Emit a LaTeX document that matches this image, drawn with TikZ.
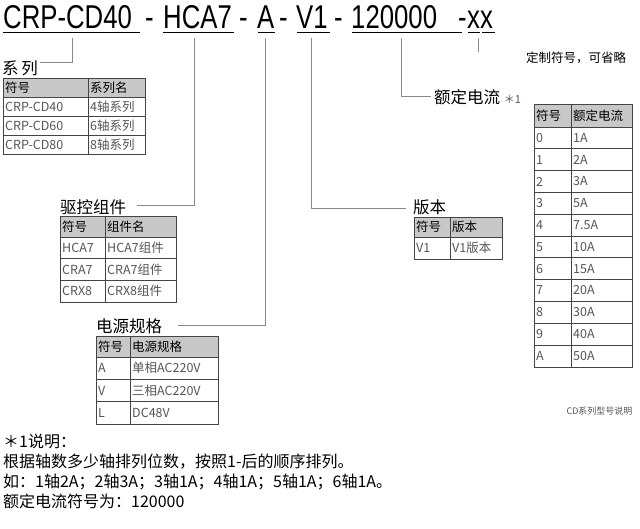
\documentclass[tikz,border=0pt]{standalone}
\usepackage{fontspec}
\setmainfont{Noto Sans CJK SC}
\newfontfamily\hdr{Liberation Sans}
\definecolor{hd}{HTML}{C8C8C8}
\definecolor{bd}{HTML}{444444}
\definecolor{tx}{HTML}{555555}
\definecolor{ln}{HTML}{888888}
\begin{document}
\begin{tikzpicture}[x=1pt,y=-1pt,
  big/.style={font=\hdr\fontsize{33}{33}\selectfont,anchor=base west,inner sep=0pt},
  lead/.style={ln,line width=0.6pt},
  lab/.style={font=\fontsize{16.5}{16.5}\selectfont,anchor=south west,inner sep=0pt},
  cell/.style={anchor=west,inner sep=2pt,font=\fontsize{12.5}{13}\selectfont},
  hcell/.style={cell,text=black},
  rcell/.style={cell,text=tx},
  grid/.style={bd,line width=0.6pt}]
\useasboundingbox (0,0) rectangle (640,529);
% header
\newcommand\sq[1]{\scalebox{0.78}[1]{#1}}
\node[big] (p1) at (3,29) {\sq{CRP-CD40}};
\node[big] (d1) at (145,29) {\sq{-}};
\node[big] (p2) at (163,29) {\sq{HCA7}};
\node[big] (d2) at (239,29) {\sq{-}};
\node[big] (p3) at (257,29) {\sq{A}};
\node[big] (d3) at (279,29) {\sq{-}};
\node[big] (p4) at (296,29) {\sq{V1}};
\node[big] (d4) at (334,29) {\sq{-}};
\node[big] (p5) at (351,29) {\sq{120000}};
\node[big] (d5) at (458,29) {\sq{-}};
\node[big] (p6) at (467,29) {\sq{xx}};
\foreach \a/\b in {3/140,163/234,258/275,297/330,352/462,468/480,482/495}
  \draw[black,line width=0.8pt] (\a,32) -- (\b,32);
% labels
\node[lab] (l1) at (2,76) {系\,列};
\node[lab] (l2) at (60,215) {驱控组件};
\node[lab] (l3) at (96,334) {电源规格};
\node[lab] (l4) at (413,215) {版本};
\node[lab] (l5) at (434,105) {额定电流 {\color{tx}\fontsize{11}{11}\selectfont ＊1}};
\node[anchor=south west,inner sep=0pt,font=\fontsize{12.5}{12.5}\selectfont] (l6) at (526,64) {定制符号，可省略};
% leaders
\draw[lead] (72,38) -- (72,62) -- (40,62);
\draw[lead] (194,38) -- (194,205) -- (137,205);
\draw[lead] (265,38) -- (265,325) -- (178,325);
\draw[lead] (311,38) -- (311,208) -- (406,208);
\draw[lead] (401,38) -- (401,96) -- (431,96);
\draw[lead] (478,38) -- (478,52);
% generic table drawer
\def\drawtab#1#2#3#4#5#6#7#8{% x0 xs x1 ytop hh rh headers rows
  \fill[hd] (#1,#4) rectangle (#3,#4+#5);
  \path (#1,#4+#5/2) node[hcell] {\firstH#7};
  \path (#2,#4+#5/2) node[hcell] {\secondH#7};
  \foreach \u/\v [count=\i] in {#8} {
    \path (#1,#4+#5+\i*#6-#6/2) node[rcell] {\u};
    \path (#2,#4+#5+\i*#6-#6/2) node[rcell] {\v};
    \draw[grid] (#1,#4+#5+\i*#6) -- (#3,#4+#5+\i*#6);
    \xdef\ybot{\i}
  }
  \draw[grid] (#1,#4) rectangle (#3,#4+#5+\ybot*#6);
  \draw[grid] (#2,#4) -- (#2,#4+#5+\ybot*#6);
  \draw[grid] (#1,#4+#5) -- (#3,#4+#5);
}
\def\firstH#1/#2\relax{#1}
\def\secondH#1/#2\relax{#2}
\drawtab{3}{88}{145}{78}{19}{19}{符号/系列名\relax}{CRP-CD40/4轴系列,CRP-CD60/6轴系列,CRP-CD80/8轴系列}
\drawtab{60}{105}{176}{216}{21}{21.7}{符号/组件名\relax}{HCA7/HCA7组件,CRA7/CRA7组件,CRX8/CRX8组件}
\drawtab{96}{130}{218}{336}{21}{22.3}{符号/电源规格\relax}{A/单相AC220V,V/三相AC220V,L/DC48V}
\drawtab{414}{450}{502}{217}{20}{22}{符号/版本\relax}{V1/V1版本}
\drawtab{534}{571}{632}{104}{23}{21.8}{符号/额定电流\relax}{0/1A,1/2A,2/3A,3/5A,4/7.5A,5/10A,6/15A,7/20A,8/30A,9/40A,A/50A}
\node[anchor=east,text=tx,font=\fontsize{9}{9}\selectfont] (cap) at (636,411) {CD系列型号说明};
% notes
\foreach \t [count=\i] in {＊1说明：,根据轴数多少轴排列位数，按照1-后的顺序排列。,如：1轴2A；2轴3A；3轴1A；4轴1A；5轴1A；6轴1A。,额定电流符号为：120000}
  \node[anchor=base west,inner sep=0pt,font=\fontsize{16}{16}\selectfont] (n\i) at (3,447+\i*20-20) {\t};
\end{tikzpicture}
\end{document}
